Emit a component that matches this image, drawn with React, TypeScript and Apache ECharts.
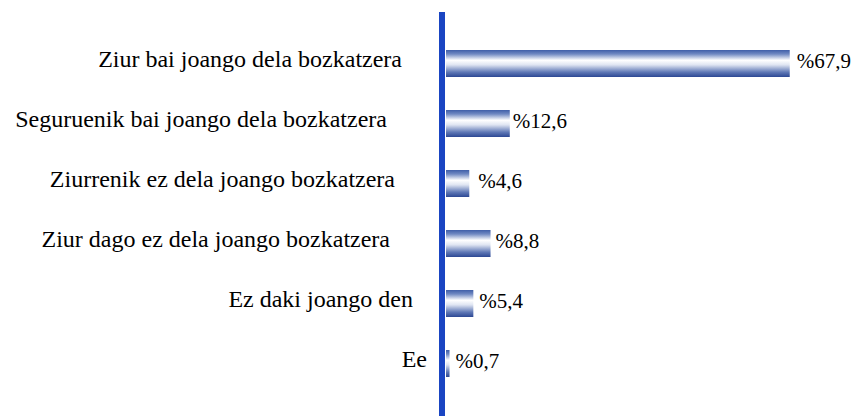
import React, { useEffect, useRef } from "react";
import * as echarts from "echarts";

const categories = [
  "Ziur bai joango dela bozkatzera",
  "Seguruenik bai joango dela bozkatzera",
  "Ziurrenik ez dela joango bozkatzera",
  "Ziur dago ez dela joango bozkatzera",
  "Ez daki joango den",
  "Ee",
];
const values = [67.9, 12.6, 4.6, 8.8, 5.4, 0.7];
const valueLabels = ["%67,9", "%12,6", "%4,6", "%8,8", "%5,4", "%0,7"];

// styling only (gap between label and axis, gap between bar and value label)
const labelGaps = [44, 59, 51, 56, 33, 19];
const valueGaps = [7, 3, 9, 5, 6, 6];

const SERIF = "Liberation Serif";

export default function App() {
  const ref = useRef<HTMLDivElement>(null);
  useEffect(() => {
    if (!ref.current) return;
    const chart = echarts.init(ref.current, undefined, { renderer: "svg" });
    const rich: Record<string, any> = {};
    labelGaps.forEach((g, i) => {
      rich["l" + i] = {
        fontFamily: SERIF,
        fontSize: 24,
        color: "#000",
        padding: [0, g, 10, 0],
      };
    });
    const gradient = new echarts.graphic.LinearGradient(0, 0, 0, 1, [
      { offset: 0, color: "#3f5ea8" },
      { offset: 0.15, color: "#7089c2" },
      { offset: 0.38, color: "#ffffff" },
      { offset: 0.55, color: "#dfe5f2" },
      { offset: 0.82, color: "#5f78b6" },
      { offset: 1, color: "#2c4894" },
    ]);
    chart.setOption({
      animation: false,
      backgroundColor: "#ffffff",
      grid: [
        { left: 446, top: 33.5, height: 360, width: 405, containLabel: false },
        { left: 442, top: 12, bottom: 0, width: 405, containLabel: false },
      ],
      xAxis: [
        { type: "value", gridIndex: 0, min: 0, max: 80, show: false },
        { type: "value", gridIndex: 1, min: 0, max: 80, show: false },
      ],
      yAxis: [
        {
          type: "category",
          gridIndex: 0,
          data: categories,
          inverse: true,
          axisLine: { show: false },
          axisTick: { show: false },
          splitLine: { show: false },
          axisLabel: {
            margin: 0,
            fontFamily: SERIF,
            fontSize: 24,
            color: "#000",
            formatter: (v: string, i: number) => `{l${i}|${v}}`,
            rich,
          },
        },
        {
          type: "category",
          gridIndex: 1,
          data: [""],
          axisLine: { show: true, lineStyle: { color: "#1a45c2", width: 6, cap: "butt" } },
          axisTick: { show: false },
          axisLabel: { show: false },
          splitLine: { show: false },
        },
      ],
      series: [
        {
          type: "bar",
          xAxisIndex: 0,
          yAxisIndex: 0,
          barWidth: 27,
          label: {
            show: true,
            position: "right",
            offset: [0, -3],
            formatter: (p: any) => valueLabels[p.dataIndex],
            fontFamily: SERIF,
            fontSize: 21,
            color: "#000",
          },
          data: values.map((v, i) => ({
            value: v,
            label: { distance: valueGaps[i] },
          })),
          itemStyle: { color: gradient },
        },
      ],
    });
    return () => chart.dispose();
  }, []);
  return <div ref={ref} style={{ width: 854, height: 416, position: "fixed", left: 0, top: 0 }} />;
}
